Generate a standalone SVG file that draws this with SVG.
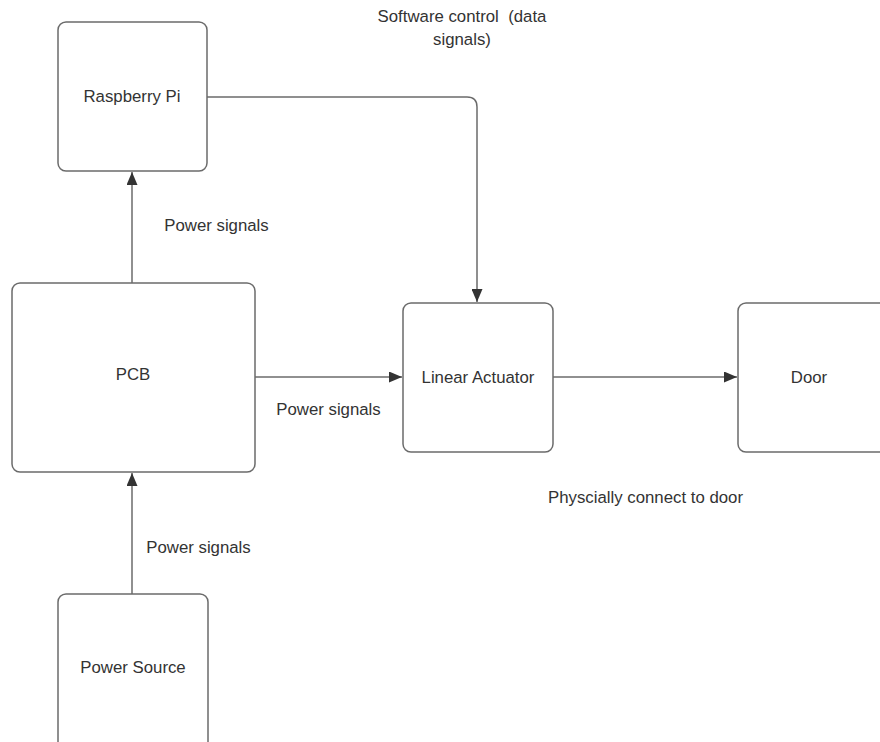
<svg xmlns="http://www.w3.org/2000/svg" width="880" height="742" viewBox="0 0 880 742">
  <style>
    .box { fill: #ffffff; stroke: #6b6b6b; stroke-width: 1.5; }
    .wire { fill: none; stroke: #6b6b6b; stroke-width: 1.5; }
    text { font-family: "Liberation Sans", Arial, sans-serif; font-size: 16.8px; fill: #333333; text-anchor: middle; white-space: pre; }
  </style>
  <defs>
    <marker id="arrow" viewBox="0 0 13 11" refX="13" refY="5.5" markerWidth="13" markerHeight="11" markerUnits="userSpaceOnUse" orient="auto">
      <path d="M0,0 L13,5.5 L0,11 Z" fill="#333333"/>
    </marker>
  </defs>
  <rect width="880" height="742" fill="#ffffff"/>

  <!-- connectors -->
  <g id="connectors">
    <path class="wire" d="M207,97 H467 Q477,97 477,107 V302" marker-end="url(#arrow)"/>
    <path class="wire" d="M132,283 V172" marker-end="url(#arrow)"/>
    <path class="wire" d="M255,377 H402" marker-end="url(#arrow)"/>
    <path class="wire" d="M553,377 H737" marker-end="url(#arrow)"/>
    <path class="wire" d="M132,594 V473" marker-end="url(#arrow)"/>
  </g>

  <!-- connector labels -->
  <g id="labels">
    <text x="462" y="22">Software control  (data</text>
    <text x="462" y="45">signals)</text>
    <text x="216.5" y="231">Power signals</text>
    <text x="328.5" y="415">Power signals</text>
    <text x="645.5" y="503">Physcially connect to door</text>
    <text x="198.5" y="553">Power signals</text>
  </g>

  <g id="raspberry-pi">
    <rect class="box" x="58" y="22" width="149" height="149" rx="8"/>
    <text x="132" y="102">Raspberry Pi</text>
  </g>
  <g id="pcb">
    <rect class="box" x="12" y="283" width="243" height="189" rx="8"/>
    <text x="133" y="380">PCB</text>
  </g>
  <g id="linear-actuator">
    <rect class="box" x="403" y="303" width="150" height="149" rx="8"/>
    <text x="478" y="383">Linear Actuator</text>
  </g>
  <g id="door">
    <rect class="box" x="738" y="303" width="150" height="149" rx="8"/>
    <text x="809" y="383">Door</text>
  </g>
  <g id="power-source">
    <rect class="box" x="58" y="594" width="150" height="160" rx="8"/>
    <text x="133" y="673">Power Source</text>
  </g>
</svg>
